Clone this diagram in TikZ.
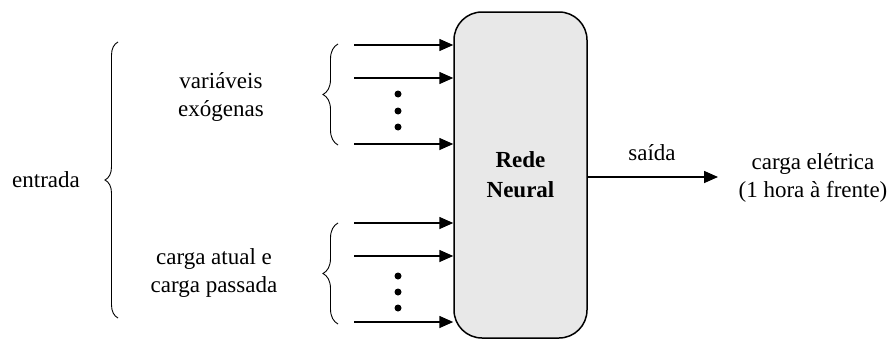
\documentclass[tikz,border=0pt]{standalone}
\usepackage{fontspec}
\setmainfont{Liberation Serif}
\usetikzlibrary{arrows.meta,decorations.pathreplacing}

\begin{document}
\begin{tikzpicture}[x=1pt,y=-1pt,
  txt/.style={font=\fontsize{23}{28}\selectfont, align=center, inner sep=0pt},
  netbox/.style={draw, line width=1.5pt, fill=black!9, rounded corners=28pt,
    minimum width=133pt, minimum height=326pt, inner sep=0pt,
    font=\fontsize{23}{30}\selectfont\bfseries, align=center},
  feed/.style={line width=1.6pt, -{Triangle[length=14pt,width=12pt]}},
  curly/.style={line width=0.9pt, decorate,
    decoration={brace, amplitude=#1, aspect=0.5}},
  dot/.style={circle, fill=black, inner sep=0pt, minimum size=7pt}]

\useasboundingbox (0,0) rectangle (895,340);

% central block
\node[netbox] (net) at (520.5,175) {Rede\\Neural};

% input lines, upper group
\coordinate (a1) at (354,45);
\coordinate (a2) at (354,78);
\coordinate (a3) at (354,144);
% input lines, lower group
\coordinate (b1) at (354,223);
\coordinate (b2) at (354,256);
\coordinate (b3) at (354,322);

\foreach \p in {a1,a2,a3,b1,b2,b3}
  \draw[feed] (\p) -- (net.west |- \p);

% ellipsis dots between the inputs
\node[dot] (da1) at (398,94) {};
\node[dot] (da2) at (398,111) {};
\node[dot] (da3) at (398,127) {};
\node[dot] (db1) at (398,276) {};
\node[dot] (db2) at (398,292) {};
\node[dot] (db3) at (398,308) {};

% group braces
\coordinate (ua) at (338,145);
\coordinate (ub) at (338,44);
\coordinate (la) at (338,324);
\coordinate (lb) at (338,223);
\coordinate (ga) at (118,318);
\coordinate (gb) at (118,42);
\draw[curly=15pt] (ua) -- (ub);
\draw[curly=15pt] (la) -- (lb);
\draw[curly=13pt] (ga) -- (gb);

% labels
\node[txt] (entrada) at (46,180) {entrada};
\node[txt] (exog) at (221,97) {variáveis\\exógenas};
\node[txt] (carga) at (214,273) {carga atual e\\carga passada};

% output
\coordinate (out) at (718,177);
\draw[feed] (net.east |- out) -- (out);
\node[txt] (saida) at (652,153) {saída};
\node[txt] (target) at (813,178) {carga elétrica\\(1 hora à frente)};

\end{tikzpicture}
\end{document}
